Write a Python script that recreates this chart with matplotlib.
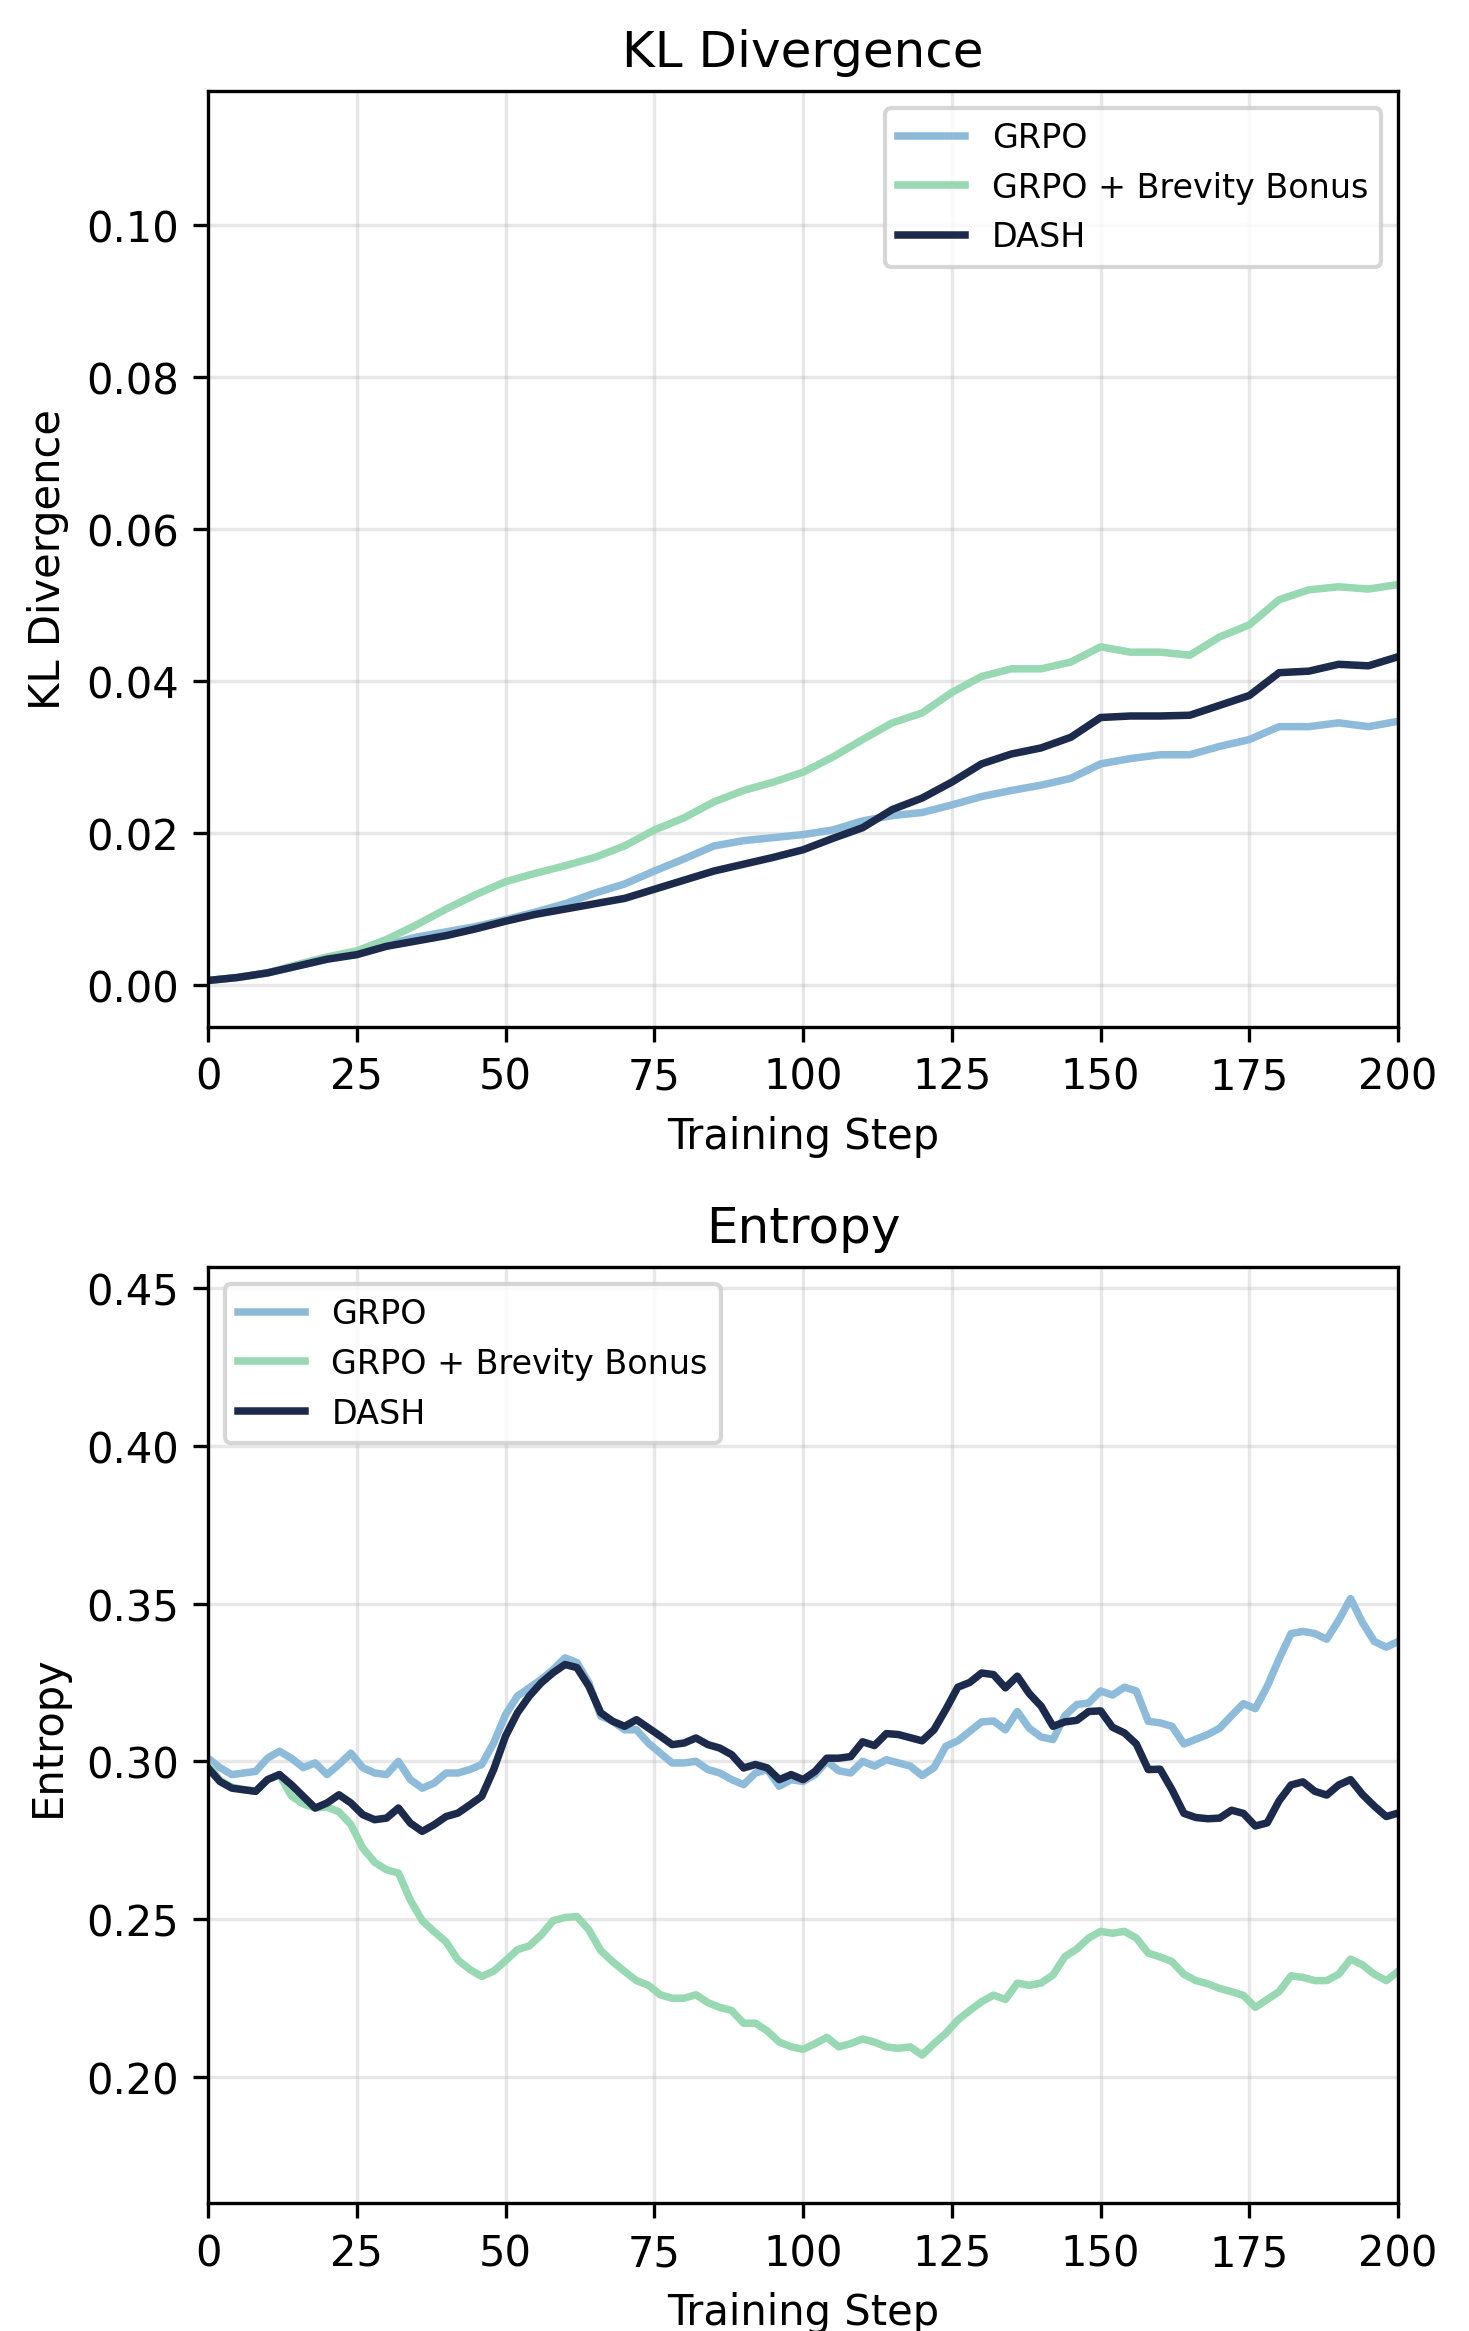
import numpy as np
import matplotlib.pyplot as plt

# --- Data ---
kl_steps = np.arange(0, 201, 5)
kl_grpo = [0.0006, 0.001, 0.0016, 0.0025, 0.0034, 0.0044, 0.0053, 0.0063, 0.007, 0.0077,
           0.0086, 0.0096, 0.0107, 0.0121, 0.0133, 0.015, 0.0166, 0.0183, 0.019, 0.0194,
           0.0198, 0.0204, 0.0216, 0.0223, 0.0227, 0.0237, 0.0248, 0.0256, 0.0263, 0.0272,
           0.0291, 0.0298, 0.0303, 0.0303, 0.0314, 0.0323, 0.034, 0.034, 0.0345, 0.034,
           0.0347]
kl_brevity = [0.0006, 0.001, 0.0016, 0.0027, 0.0037, 0.0045, 0.006, 0.0079, 0.010, 0.0119,
              0.0136, 0.0147, 0.0157, 0.0168, 0.0183, 0.0204, 0.022, 0.0241, 0.0256, 0.0267,
              0.028, 0.030, 0.0323, 0.0345, 0.0358, 0.0385, 0.0406, 0.0416, 0.0416, 0.0425,
              0.0445, 0.0438, 0.0438, 0.0434, 0.0458, 0.0474, 0.0507, 0.052, 0.0524, 0.0521,
              0.0527]
kl_dash = [0.0006, 0.001, 0.0016, 0.0025, 0.0034, 0.004, 0.0051, 0.0058, 0.0065, 0.0074,
           0.0084, 0.0093, 0.010, 0.0107, 0.0114, 0.0126, 0.0138, 0.015, 0.0159, 0.0168,
           0.0178, 0.0193, 0.0207, 0.0231, 0.0246, 0.0267, 0.0291, 0.0304, 0.0312, 0.0326,
           0.0352, 0.0354, 0.0354, 0.0355, 0.0368, 0.0381, 0.0411, 0.0413, 0.0422, 0.042,
           0.0432]

ent_steps = np.arange(0, 201, 2)
ent_grpo = [0.301, 0.298, 0.2958, 0.2963, 0.2968, 0.301, 0.3032, 0.301, 0.298, 0.2995,
            0.2958, 0.299, 0.3026, 0.298, 0.2963, 0.2958, 0.300, 0.2942, 0.2915, 0.2931,
            0.2963, 0.2963, 0.2974, 0.299, 0.3058, 0.3148, 0.3207, 0.3233, 0.326, 0.3291,
            0.3328, 0.3313, 0.3249, 0.3143, 0.3127, 0.310, 0.310, 0.3058, 0.3026, 0.2995,
            0.2995, 0.300, 0.2974, 0.2963, 0.2942, 0.2926, 0.2963, 0.2974, 0.2921, 0.2942,
            0.2936, 0.2958, 0.300,
            0.297, 0.2963, 0.300, 0.2985, 0.3005, 0.2995, 0.2985, 0.2955, 0.298, 0.3048,
            0.3065, 0.3095, 0.3125, 0.3128, 0.310, 0.3158, 0.3105, 0.3077, 0.3069, 0.3145,
            0.318, 0.3185, 0.3223, 0.321, 0.3235, 0.3223, 0.3127, 0.3122, 0.3111, 0.3055,
            0.307, 0.3085, 0.3105, 0.3145, 0.3183, 0.3167, 0.3238, 0.3325, 0.3405, 0.3412,
            0.3405, 0.3387, 0.3447, 0.3516, 0.344, 0.338, 0.3362, 0.338]
ent_brevity = [0.299, 0.294, 0.2918, 0.291, 0.2905, 0.2942, 0.2958, 0.289, 0.2865, 0.2852,
               0.2855, 0.284, 0.280, 0.2725, 0.268, 0.2656, 0.2646, 0.256, 0.2495, 0.246,
               0.2428, 0.237, 0.234, 0.2318, 0.2335, 0.2368, 0.2403, 0.2415, 0.245, 0.2495,
               0.2505, 0.2508, 0.2466, 0.240, 0.2365, 0.2334, 0.2305, 0.229, 0.226, 0.2249,
               0.2249, 0.226, 0.2235, 0.222, 0.221, 0.217, 0.217, 0.2145, 0.211, 0.2095,
               0.2087, 0.2105, 0.2125, 0.2095, 0.2105, 0.212, 0.211, 0.2095, 0.209, 0.2095,
               0.2069, 0.2105, 0.2138, 0.218, 0.221, 0.2238, 0.2259, 0.2245, 0.2297, 0.229,
               0.2297, 0.2323, 0.2381, 0.2405, 0.244, 0.2461, 0.2455, 0.2461, 0.244, 0.2392,
               0.238, 0.2365, 0.2325, 0.2305, 0.2295, 0.228, 0.227, 0.2258, 0.222, 0.2245,
               0.227, 0.232, 0.2315, 0.2305, 0.2305, 0.2325, 0.2373, 0.2355, 0.2325, 0.2305,
               0.2334]
ent_dash = [0.2979, 0.2936, 0.2915, 0.291, 0.2905, 0.2942, 0.2958, 0.2926, 0.2889, 0.2852,
            0.2868, 0.2894, 0.2868, 0.2831, 0.2815, 0.282, 0.2852, 0.2804, 0.2778, 0.2799,
            0.2825, 0.2836, 0.2862, 0.2889, 0.2974, 0.308, 0.3154, 0.3207, 0.3249, 0.3281,
            0.3307, 0.3297, 0.3238, 0.3154, 0.3127, 0.3111, 0.3132, 0.3106, 0.308, 0.3053,
            0.3058, 0.3074, 0.3053, 0.3042, 0.3021, 0.2979, 0.299, 0.2979, 0.2942, 0.2958,
            0.2942, 0.2968, 0.301,
            0.301, 0.3015, 0.3062, 0.305, 0.3088, 0.3085, 0.3075, 0.3065, 0.310, 0.3165,
            0.3235, 0.325, 0.328, 0.3275, 0.3233, 0.327, 0.3215, 0.3175, 0.3111, 0.3125,
            0.313, 0.3158, 0.316, 0.3108, 0.309, 0.3055, 0.2974, 0.2975, 0.291, 0.2835,
            0.2822, 0.2818, 0.282, 0.2845, 0.2835, 0.2795, 0.2805, 0.2875, 0.2925, 0.2935,
            0.2905, 0.2893, 0.2925, 0.2942, 0.2895, 0.2858, 0.2825, 0.2836]

labels = ["GRPO", "GRPO + Brevity Bonus", "DASH"]
colors = ["#8dbbd9", "#98d8b2", "#1c2a4b"]

# --- Figure ---
fig, axes = plt.subplots(2, 1, figsize=(4.897, 7.773), dpi=300)
plt.subplots_adjust(left=0.1416, right=0.9517, top=0.9605, bottom=0.0549, hspace=0.257)

ax = axes[0]
for ys, lab, c in zip([kl_grpo, kl_brevity, kl_dash], labels, colors):
    ax.plot(kl_steps, ys, color=c, lw=1.8, label=lab)
ax.set_xlim(0, 200)
ax.set_ylim(-0.0055, 0.1176)
ax.set_title("KL Divergence", fontsize=12)
ax.set_xlabel("Training Step", fontsize=10)
ax.set_ylabel("KL Divergence", fontsize=10)
ax.legend(loc="upper right", fontsize=8)

ax = axes[1]
for ys, lab, c in zip([ent_grpo, ent_brevity, ent_dash], labels, colors):
    ax.plot(ent_steps, ys, color=c, lw=1.8, label=lab)
ax.set_xlim(0, 200)
ax.set_ylim(0.160, 0.4566)
ax.set_yticks([0.20, 0.25, 0.30, 0.35, 0.40, 0.45])
ax.set_title("Entropy", fontsize=12)
ax.set_xlabel("Training Step", fontsize=10)
ax.set_ylabel("Entropy", fontsize=10)
ax.legend(loc="upper left", fontsize=8)

for ax in axes:
    ax.tick_params(labelsize=10)
    ax.grid(True, alpha=0.3)
    ax.set_xticks([0, 25, 50, 75, 100, 125, 150, 175, 200])

plt.savefig("out.png", dpi=300)
